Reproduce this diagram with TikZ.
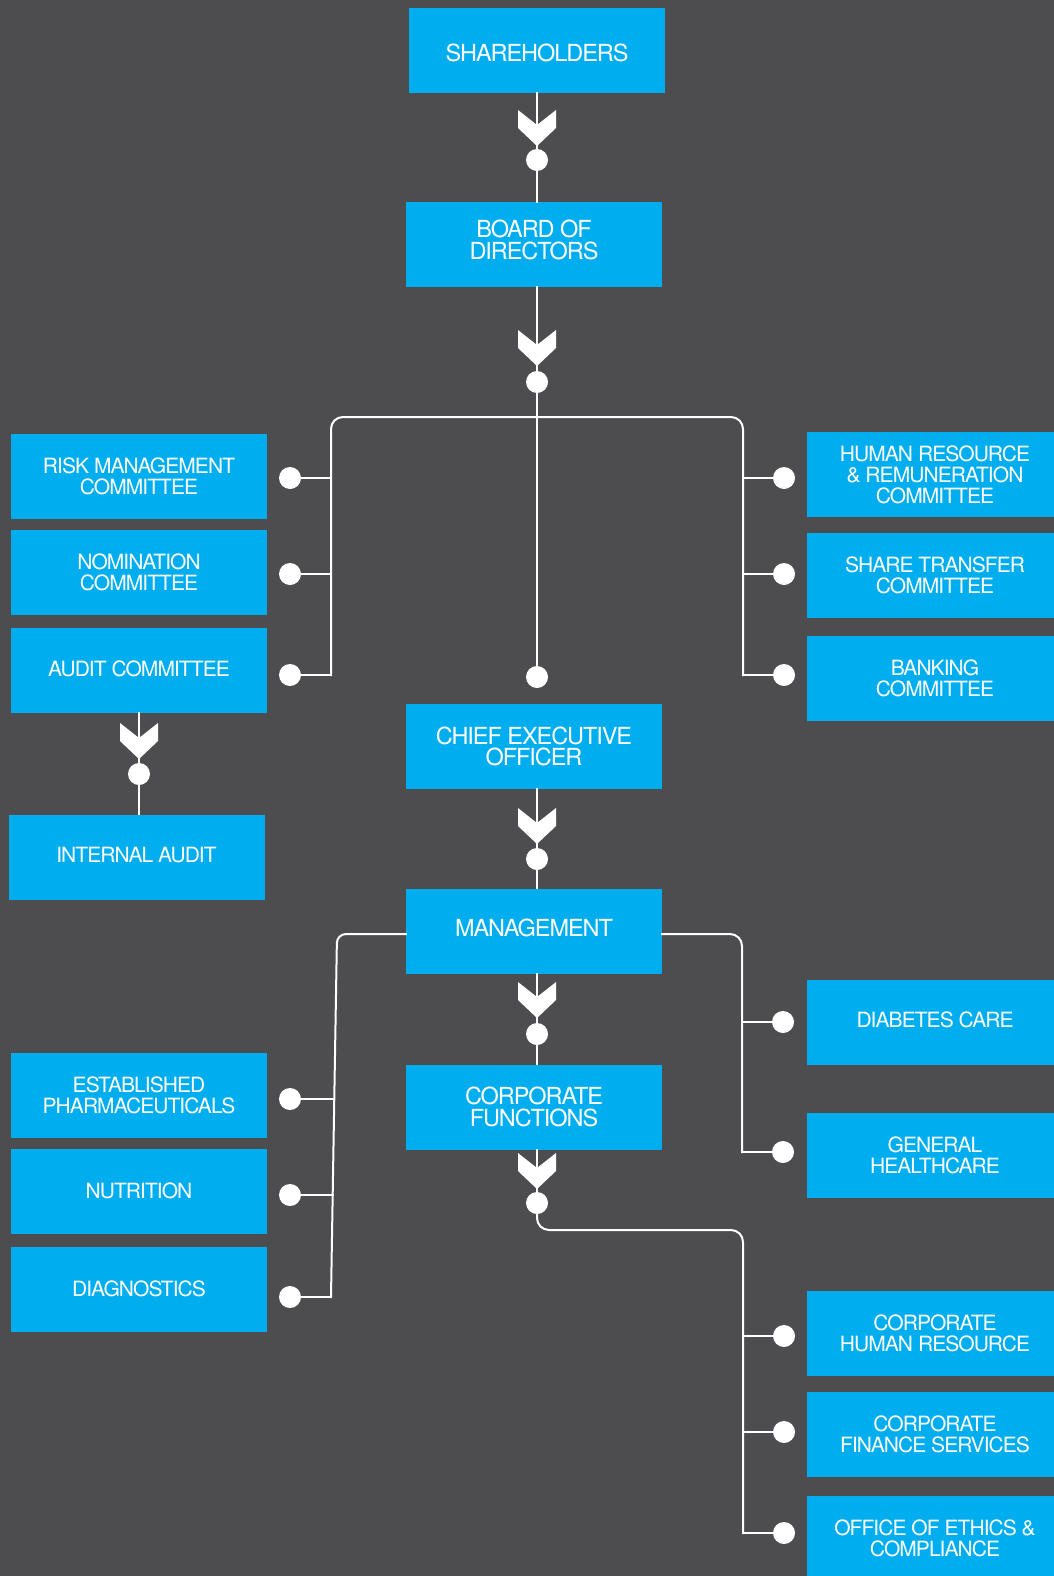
\documentclass[tikz,border=0pt]{standalone}
\usepackage{fontspec}
\setmainfont{TeX Gyre Heros}
\newfontfamily\bxf{TeX Gyre Heros}[LetterSpace=-4.5]
\definecolor{bgc}{HTML}{4D4D4F}
\definecolor{cblue}{HTML}{00AEEF}
\begin{document}
\begin{tikzpicture}[x=1pt,y=-1pt,
  box/.style={rectangle, fill=cblue, text=white, align=center, minimum height=85pt, inner sep=0pt,
    font=\bxf\fontsize{23.5}{21.5}\selectfont},
  cbox/.style={box, minimum width=256pt},
  lbox/.style={box, minimum width=256pt, font=\bxf\fontsize{21}{21}\selectfont},
  rbox/.style={box, minimum width=256pt, font=\bxf\fontsize{21}{21}\selectfont},
  dot/.style={circle, fill=white, inner sep=0pt, minimum size=22pt},
  conn/.style={draw=white, line width=2pt, line cap=rect},
  chev/.pic={\fill[white] (-19,0) -- (0,15) -- (19,0) -- (19,18) -- (0,36) -- (-19,18) -- cycle;}
]
\useasboundingbox (0,0) rectangle (1054,1576);
\fill[bgc] (0,0) rectangle (1054,1576);

% boxes
\node[cbox, text height=22pt] (sh) at (537,50.5) {SHAREHOLDERS};
\node[cbox, text depth=10pt] (bod) at (534,244.5) {BOARD OF\\DIRECTORS};
\node[cbox] (ceo) at (534,746.5) {CHIEF EXECUTIVE\\OFFICER};
\node[cbox, text depth=6pt] (mgmt) at (534,931) {MANAGEMENT};
\node[cbox] (cf) at (534,1107) {CORPORATE\\FUNCTIONS};

\node[lbox] (risk) at (139,476.5) {RISK MANAGEMENT\\COMMITTEE};
\node[lbox] (nom) at (139,572) {NOMINATION\\COMMITTEE};
\node[lbox, text depth=4pt] (aud) at (139,670.5) {AUDIT COMMITTEE};
\node[lbox, text depth=4pt] (ia) at (136.5,857) {INTERNAL AUDIT};
\node[lbox] (ep) at (139,1095) {ESTABLISHED\\PHARMACEUTICALS};
\node[lbox] (nut) at (139,1191) {NUTRITION};
\node[lbox] (diag) at (139,1289) {DIAGNOSTICS};

\node[rbox] (hr) at (935,474.5) {HUMAN RESOURCE\\\& REMUNERATION\\COMMITTEE};
\node[rbox] (st) at (935,575) {SHARE TRANSFER\\COMMITTEE};
\node[rbox] (bank) at (935,678) {BANKING\\COMMITTEE};
\node[rbox, text depth=4pt] (dc) at (935,1022) {DIABETES CARE};
\node[rbox] (gh) at (935,1155) {GENERAL\\HEALTHCARE};
\node[rbox] (chr) at (935,1333.5) {CORPORATE\\HUMAN RESOURCE};
\node[rbox] (cfs) at (935,1434.5) {CORPORATE\\FINANCE SERVICES};
\node[rbox] (eth) at (935,1538.5) {OFFICE OF ETHICS \&\\COMPLIANCE};

% dots
\node[dot] (d1) at (537,160) {};
\node[dot] (d2) at (537,382) {};
\node[dot] (dceo) at (537,677) {};
\node[dot] (dl1) at (290,478) {};
\node[dot] (dl2) at (290,574) {};
\node[dot] (dl3) at (290,675) {};
\node[dot] (dr1) at (784,478) {};
\node[dot] (dr2) at (784,574) {};
\node[dot] (dr3) at (784,675) {};
\node[dot] (da) at (139,774) {};
\node[dot] (d3) at (537,859) {};
\node[dot] (d4) at (537,1034) {};
\node[dot] (d5) at (537,1203) {};
\node[dot] (dm1) at (290,1099) {};
\node[dot] (dm2) at (290,1195) {};
\node[dot] (dm3) at (290,1297) {};
\node[dot] (dn1) at (783,1022) {};
\node[dot] (dn2) at (783,1152) {};
\node[dot] (dc1) at (784,1336) {};
\node[dot] (dc2) at (784,1432) {};
\node[dot] (dc3) at (784,1533) {};

% bus coordinates
\coordinate (tl) at (331,417);
\coordinate (tr) at (743,417);
\coordinate (lb) at (331,675);
\coordinate (rb) at (743,675);
\coordinate (ml) at (337,934);
\coordinate (mlb) at (331,1297);
\coordinate (mr) at (742,934);
\coordinate (mrb) at (742,1152);
\coordinate (cc) at (537,1230);
\coordinate (cr) at (743,1230);
\coordinate (crb) at (743,1533);

% connectors
\draw[conn] (sh.south -| d1) -- (d1);
\draw[conn] (d1) -- (d1 |- bod.north);
\draw[conn] (d1 |- bod.south) -- (d2);
\draw[conn] (d2) -- (dceo);
\draw[conn, rounded corners=12pt] (lb) -- (tl) -- (tr) -- (rb);
\draw[conn] (dl1 -| tl) -- (dl1);
\draw[conn] (dl2 -| tl) -- (dl2);
\draw[conn] (lb) -- (dl3);
\draw[conn] (dr1 -| tr) -- (dr1);
\draw[conn] (dr2 -| tr) -- (dr2);
\draw[conn] (rb) -- (dr3);

\draw[conn] (aud.south -| da) -- (da);
\draw[conn] (da) -- (da |- ia.north);

\draw[conn] (d3 |- ceo.south) -- (d3);
\draw[conn] (d3) -- (d3 |- mgmt.north);
\draw[conn] (d4 |- mgmt.south) -- (d4);
\draw[conn] (d4) -- (d4 |- cf.north);
\draw[conn] (d5 |- cf.south) -- (d5);

\draw[conn, rounded corners=9pt] (ml -| mgmt.west) -- (ml) -- (mlb);
\draw[conn] (mlb) -- (dm3);
\draw[conn] (333.5,1099) -- (dm1);
\draw[conn] (332.5,1195) -- (dm2);

\draw[conn, rounded corners=12pt] (mr -| mgmt.east) -- (mr) -- (mrb);
\draw[conn] (dn1 -| mr) -- (dn1);
\draw[conn] (mrb) -- (dn2);

\draw[conn, rounded corners=12pt] (d5) -- (cc) -- (cr) -- (crb);
\draw[conn] (dc1 -| cr) -- (dc1);
\draw[conn] (dc2 -| cr) -- (dc2);
\draw[conn] (crb) -- (dc3);

% chevrons
\pic at (537,110) {chev};
\pic at (537,330) {chev};
\pic at (139,723) {chev};
\pic at (537,808) {chev};
\pic at (537,982) {chev};
\pic at (537,1153) {chev};
\end{tikzpicture}
\end{document}
